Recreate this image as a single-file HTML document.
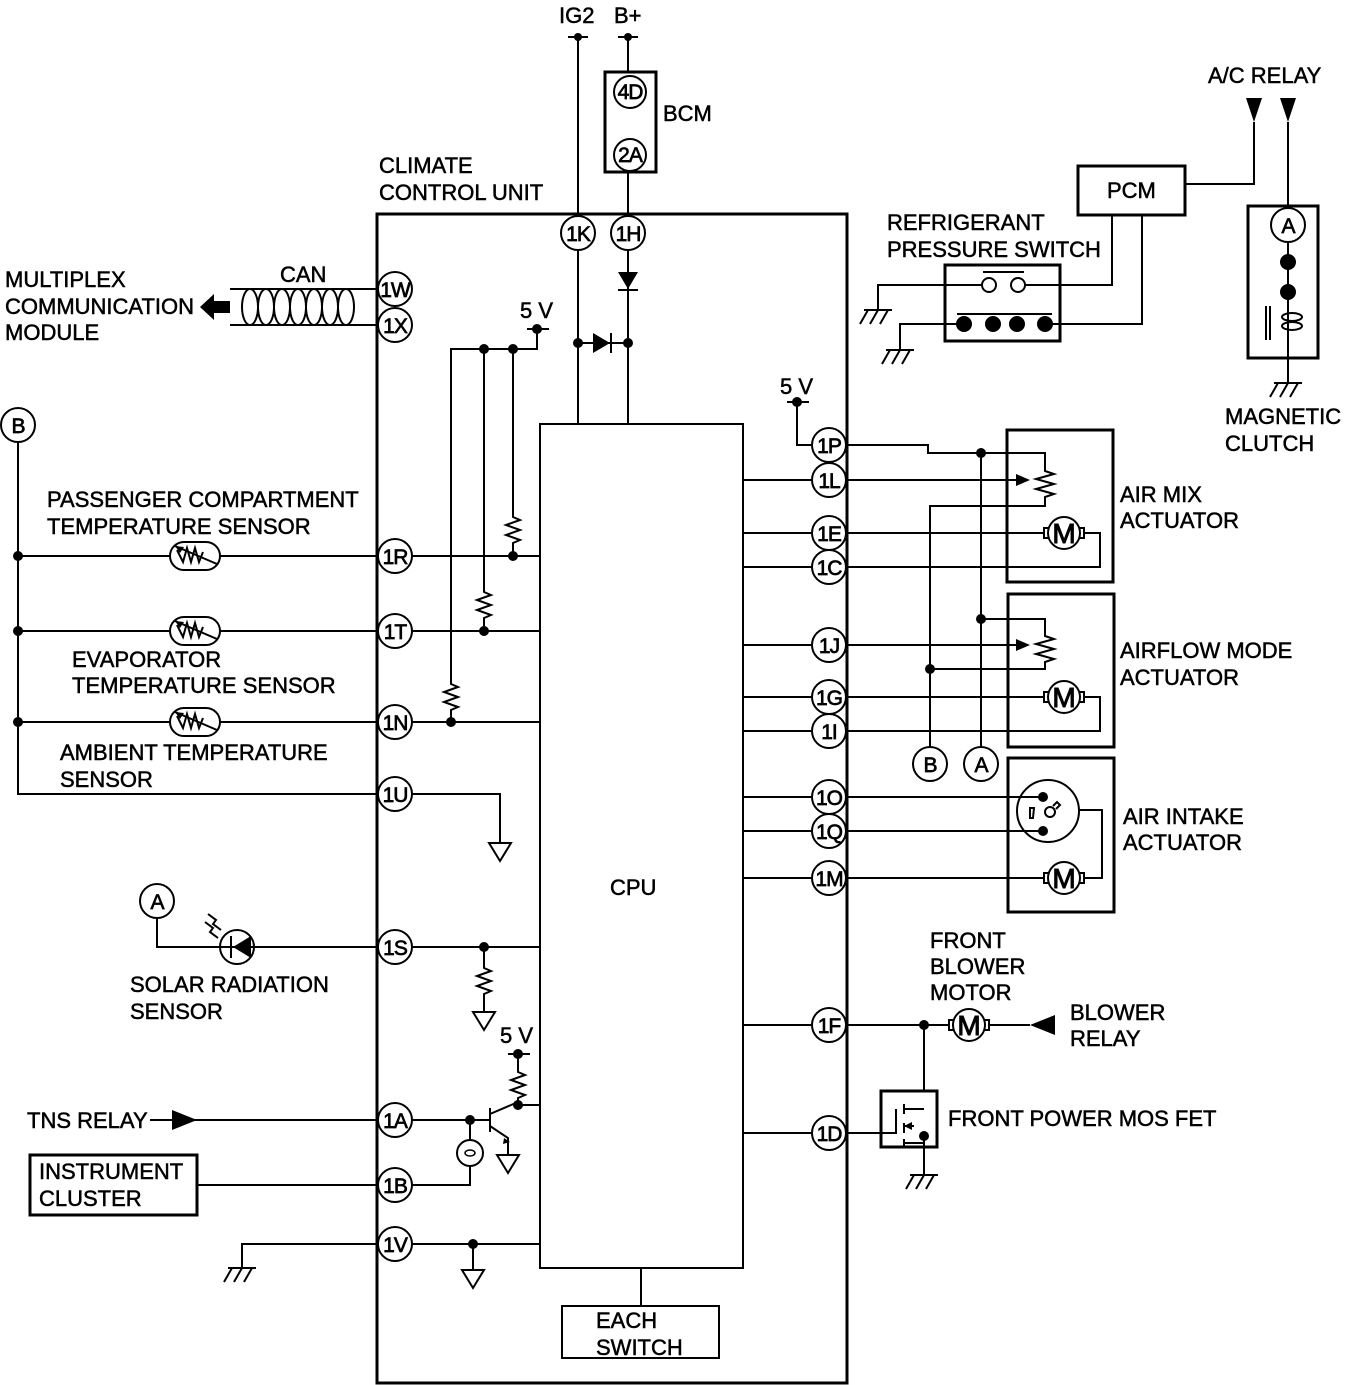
<!DOCTYPE html>
<html><head><meta charset="utf-8"><style>
html,body{margin:0;padding:0;background:#fff;}
svg{display:block;}
text{font-family:"Liberation Sans",Arial,sans-serif;font-size:22px;fill:#000;stroke:#000;stroke-width:0.5px;}
.p{font-size:21px;text-anchor:middle;letter-spacing:-1px;stroke-width:0.7px;}
</style></head><body>
<svg width="1362" height="1385" viewBox="0 0 1362 1385" xmlns="http://www.w3.org/2000/svg">
<defs>
<g id="rv"><path d="M0,0 v8 l7,3 l-14,5 l14,5 l-14,5 l14,5 l-7,3 v8" fill="none" stroke="#000" stroke-width="2"/></g>
<g id="gnd"><path d="M-14,0 h28 M-10,0 l-8,14 M0,0 l-8,14 M10,0 l-8,14" fill="none" stroke="#000" stroke-width="2"/></g>
<g id="tri"><path d="M-11,0 h22 l-11,18 z" fill="#fff" stroke="#000" stroke-width="2"/></g>
<g id="th"><rect x="-25" y="-14" width="50" height="28" rx="14" fill="#fff" stroke="#000" stroke-width="2"/><path d="M-18,-6 l6,12 l4,-14 l4,14 l4,-14 l4,14 l4,-10" fill="none" stroke="#000" stroke-width="2"/><path d="M-20,-10 L22,8" stroke="#000" stroke-width="2"/><path d="M-20,-10 l9,1 l-4,6z" fill="#000"/></g>
<g id="mot"><rect x="-20" y="-5" width="6" height="10" fill="#fff" stroke="#000" stroke-width="2"/><rect x="14" y="-5" width="6" height="10" fill="#fff" stroke="#000" stroke-width="2"/><circle r="16" fill="#fff" stroke="#000" stroke-width="2"/><text y="10" class="p" style="font-size:28px;stroke-width:1px;letter-spacing:0">M</text></g>
<g id="pot"><path d="M0,0 v8 l9,3 l-18,5 l18,5 l-18,5 l18,5 l-9,3 v8" fill="none" stroke="#000" stroke-width="2"/></g>
</defs>
<g fill="none" stroke="#000" stroke-width="2">
<rect x="377" y="214" width="470" height="1169" stroke-width="3"/>
<rect x="540" y="424" width="203" height="844"/>
<rect x="562" y="1306" width="157" height="52"/>
<path d="M641,1268 V1306"/>
<path d="M568,37 h20 M618,37 h20 M578,37 V216 M628,37 V72 M628,172 V216"/>
<rect x="605" y="72" width="51" height="100" stroke-width="3"/>
<path d="M628,250 V424 M578,250 V424 M578,343 H628"/>
<path d="M230,289 H378 M230,325 H378"/>
<path d="M527,329 h22 M537,329 V349 H451 V676 M451,712 V722 M484,349 V584 M484,620 V631 M513,349 V509 M513,545 V556"/>
<path d="M395,556 H540 M395,631 H540 M395,722 H540"/>
<path d="M18,442 V794 H378 M18,556 H378 M18,631 H378 M18,722 H378"/>
<path d="M412,794 H500 V843"/>
<path d="M157,918 V947 H378 M412,947 H540 M484,947 V960 M484,996 V1012"/>
<path d="M205,922 l8,6 l-3,4 l8,6 M208,914 l8,6 l-3,4 l8,6"/>
<path d="M508,1054 h22 M518,1054 V1064 M518,1100 V1105 H540"/>
<path d="M150,1120 H378 M412,1120 H490 M490,1108 V1132 M490,1114 L518,1102 M490,1126 L508,1138 V1155"/>
<path d="M470,1120 V1140 M470,1166 V1185 H412 M197,1185 H378"/>
<rect x="30" y="1155" width="167" height="60" stroke-width="3"/>
<path d="M378,1244 H242 V1268 M412,1244 H540 M473,1244 V1270"/>
<path d="M787,402 h22 M797,402 V445 H812 M846,445 H928 V453 H1045 V463 M1045,499 V506 H930 V747"/>
<path d="M981,453 V747 M981,619 H1045 V628 M1045,664 V669 H930"/>
<path d="M743,480 H812 M846,480 H1028 M743,533 H812 M846,533 H1045 M1083,533 H1100 V567 H846 M743,567 H812"/>
<path d="M743,645 H812 M846,645 H1028 M743,697 H812 M846,697 H1045 M1083,697 H1100 V731 H846 M743,731 H812"/>
<path d="M743,797 H812 M846,797 H1045 M743,831 H812 M846,831 H1045 M743,878 H812 M846,878 H1045 M1083,878 H1102 V810 H1079"/>
<circle cx="1048" cy="811" r="31"/>
<rect x="1007" y="430" width="106" height="152" stroke-width="3"/>
<rect x="1008" y="594" width="106" height="153" stroke-width="3"/>
<rect x="1008" y="758" width="106" height="154" stroke-width="3"/>
<path d="M743,1025 H812 M846,1025 H950 M988,1025 H1030 M924,1025 V1091 M743,1133 H812 M846,1133 H881 M924,1133 V1175"/>
<rect x="881" y="1091" width="56" height="56" stroke-width="3"/>
<path d="M896,1109 V1133 H881 M904,1104 V1114 M904,1123 V1133 M904,1139 V1147 M904,1109 H924 M904,1143 H924 M904,1126 H914"/>
<rect x="1078" y="166" width="107" height="49" stroke-width="3"/>
<path d="M1185,184 H1254 V122 M1288,122 V208 M1112,215 V285 H1025 M1142,215 V324 H1052 M983,285 H878 V310 M958,324 H900 V350"/>
<rect x="945" y="265" width="115" height="76" stroke-width="3"/>
<path d="M983,272 H1024 M957,314 H1052"/>
<rect x="1248" y="206" width="70" height="152" stroke-width="3"/>
<path d="M1288,242 V330 M1288,330 V383 M1266,306 V340 M1270,306 V340"/>
<ellipse cx="1292" cy="317" rx="10" ry="4"/><ellipse cx="1292" cy="326" rx="10" ry="4"/>
<ellipse cx="250" cy="307" rx="8" ry="18"/><ellipse cx="266" cy="307" rx="8" ry="18"/><ellipse cx="282" cy="307" rx="8" ry="18"/><ellipse cx="298" cy="307" rx="8" ry="18"/><ellipse cx="314" cy="307" rx="8" ry="18"/><ellipse cx="330" cy="307" rx="8" ry="18"/><ellipse cx="346" cy="307" rx="8" ry="18"/>
</g>
<path d="M200,307 l14,-13 v7 h16 v12 h-16 v7z" fill="#000"/>
<use href="#rv" x="451" y="676"/><use href="#rv" x="484" y="584"/><use href="#rv" x="513" y="509"/>
<use href="#rv" x="484" y="960"/><use href="#rv" x="518" y="1064"/>
<use href="#pot" x="1045" y="463"/><use href="#pot" x="1045" y="628"/>
<path d="M1016,474 l14,6 l-14,6z M1016,639 l14,6 l-14,6z" fill="#000"/>
<use href="#th" x="195" y="556"/><use href="#th" x="195" y="631"/><use href="#th" x="195" y="722"/>
<use href="#tri" x="500" y="843"/><use href="#tri" x="484" y="1012"/><use href="#tri" x="508" y="1155"/><use href="#tri" x="473" y="1270"/>
<use href="#gnd" x="242" y="1268"/><use href="#gnd" x="924" y="1175"/><use href="#gnd" x="878" y="310"/><use href="#gnd" x="900" y="350"/><use href="#gnd" x="1288" y="383"/>
<use href="#mot" x="1064" y="533"/><use href="#mot" x="1064" y="697"/><use href="#mot" x="1064" y="878"/><use href="#mot" x="969" y="1025"/>
<path d="M618,272 h20 l-10,17z M593,333 v20 l17,-10z" fill="#000"/>
<path d="M618,290 h20 M611,333 v20" stroke="#000" stroke-width="2"/>
<circle cx="237" cy="947" r="17" fill="#fff" stroke="#000" stroke-width="2"/>
<path d="M251,936 v22 l-18,-11z" fill="#000"/><path d="M231,936 v22 M220,947 h34" stroke="#000" stroke-width="2"/>
<path d="M172,1110 v20 l25,-10z M1030,1025 l25,-10 v20z M1246,98 h16 l-8,24z M1280,98 h16 l-8,24z" fill="#000"/>
<circle cx="470" cy="1153" r="13" fill="#fff" stroke="#000" stroke-width="2"/><ellipse cx="470" cy="1153" rx="5" ry="3" fill="none" stroke="#000" stroke-width="1.5"/>
<path d="M504,1138 l6,4 l-7,2z" fill="#000"/>
<path d="M904,1126 l8,-4 v8z" fill="#000"/>
<g fill="#000">
<circle cx="578" cy="37" r="4"/><circle cx="628" cy="37" r="4"/><circle cx="537" cy="329" r="5"/><circle cx="484" cy="349" r="5"/><circle cx="513" cy="349" r="5"/>
<circle cx="578" cy="343" r="5"/><circle cx="628" cy="343" r="5"/>
<circle cx="513" cy="556" r="5"/><circle cx="484" cy="631" r="5"/><circle cx="451" cy="722" r="5"/>
<circle cx="18" cy="556" r="5"/><circle cx="18" cy="631" r="5"/><circle cx="18" cy="722" r="5"/>
<circle cx="484" cy="947" r="5"/><circle cx="518" cy="1054" r="5"/><circle cx="518" cy="1105" r="5"/><circle cx="470" cy="1120" r="5"/><circle cx="473" cy="1244" r="5"/>
<circle cx="797" cy="402" r="5"/><circle cx="981" cy="453" r="5"/><circle cx="981" cy="619" r="5"/><circle cx="930" cy="669" r="5"/>
<circle cx="924" cy="1025" r="5"/><circle cx="924" cy="1136" r="5"/>
<circle cx="1043" cy="797" r="5"/><circle cx="1043" cy="831" r="5"/>
<circle cx="964" cy="324" r="8"/><circle cx="993" cy="324" r="8"/><circle cx="1017" cy="324" r="8"/><circle cx="1045" cy="324" r="8"/>
<circle cx="1288" cy="262" r="8"/><circle cx="1288" cy="292" r="8"/>
</g>
<g fill="#fff" stroke="#000" stroke-width="2"><circle cx="989" cy="285" r="7"/><circle cx="1018" cy="285" r="7"/>
<circle cx="1050" cy="812" r="5"/><path d="M1053,806 l4,-4 l3,3 l-4,4"/><path d="M1030,808 h4 l-1,10 h-3z"/></g>
<g fill="#fff" stroke="#000" stroke-width="2">
<circle cx="630" cy="92" r="16"/><circle cx="630" cy="155" r="16"/><circle cx="578" cy="233" r="17"/><circle cx="628" cy="233" r="17"/>
<circle cx="395" cy="289" r="17"/><circle cx="395" cy="325" r="17"/><circle cx="395" cy="556" r="17"/><circle cx="395" cy="631" r="17"/><circle cx="395" cy="722" r="17"/><circle cx="395" cy="794" r="17"/><circle cx="395" cy="947" r="17"/><circle cx="395" cy="1120" r="17"/><circle cx="395" cy="1185" r="17"/><circle cx="395" cy="1244" r="17"/>
<circle cx="829" cy="445" r="17"/><circle cx="829" cy="480" r="17"/><circle cx="829" cy="533" r="17"/><circle cx="829" cy="567" r="17"/><circle cx="829" cy="645" r="17"/><circle cx="829" cy="697" r="17"/><circle cx="829" cy="731" r="17"/><circle cx="829" cy="797" r="17"/><circle cx="829" cy="831" r="17"/><circle cx="829" cy="878" r="17"/><circle cx="829" cy="1025" r="17"/><circle cx="829" cy="1133" r="17"/>
<circle cx="18" cy="425" r="17"/><circle cx="157" cy="901" r="17"/><circle cx="930" cy="764" r="17"/><circle cx="981" cy="764" r="17"/><circle cx="1288" cy="225" r="17"/>
</g>
<g>
<text class="p" x="630" y="99">4D</text><text class="p" x="630" y="162">2A</text><text class="p" x="578" y="241">1K</text><text class="p" x="628" y="241">1H</text>
<text class="p" x="395" y="297">1W</text><text class="p" x="395" y="333">1X</text><text class="p" x="395" y="564">1R</text><text class="p" x="395" y="639">1T</text><text class="p" x="395" y="730">1N</text><text class="p" x="395" y="802">1U</text><text class="p" x="395" y="955">1S</text><text class="p" x="395" y="1128">1A</text><text class="p" x="395" y="1193">1B</text><text class="p" x="395" y="1252">1V</text>
<text class="p" x="829" y="453">1P</text><text class="p" x="829" y="488">1L</text><text class="p" x="829" y="541">1E</text><text class="p" x="829" y="575">1C</text><text class="p" x="829" y="653">1J</text><text class="p" x="829" y="705">1G</text><text class="p" x="829" y="739">1I</text><text class="p" x="829" y="805">1O</text><text class="p" x="829" y="839">1Q</text><text class="p" x="829" y="886">1M</text><text class="p" x="829" y="1033">1F</text><text class="p" x="829" y="1141">1D</text>
<text class="p" x="18" y="433">B</text><text class="p" x="157" y="909">A</text><text class="p" x="930" y="772">B</text><text class="p" x="981" y="772">A</text><text class="p" x="1288" y="233">A</text>
</g>
<text x="559" y="23">IG2</text><text x="614" y="23">B+</text><text x="663" y="121">BCM</text>
<text x="379" y="173">CLIMATE</text><text x="379" y="200">CONTROL UNIT</text>
<text x="280" y="282">CAN</text>
<text x="5" y="287">MULTIPLEX</text><text x="5" y="314">COMMUNICATION</text><text x="5" y="340">MODULE</text>
<text x="520" y="318">5 V</text><text x="780" y="394">5 V</text><text x="500" y="1043">5 V</text>
<text x="47" y="507">PASSENGER COMPARTMENT</text><text x="47" y="534">TEMPERATURE SENSOR</text>
<text x="72" y="667">EVAPORATOR</text><text x="72" y="693">TEMPERATURE SENSOR</text>
<text x="60" y="760">AMBIENT TEMPERATURE</text><text x="60" y="787">SENSOR</text>
<text x="130" y="992">SOLAR RADIATION</text><text x="130" y="1019">SENSOR</text>
<text x="27" y="1128">TNS RELAY</text>
<text x="39" y="1179">INSTRUMENT</text><text x="39" y="1206">CLUSTER</text>
<text x="610" y="895">CPU</text>
<text x="596" y="1328">EACH</text><text x="596" y="1355">SWITCH</text>
<text x="1107" y="198">PCM</text>
<text x="1208" y="83">A/C RELAY</text>
<text x="887" y="230">REFRIGERANT</text><text x="887" y="257">PRESSURE SWITCH</text>
<text x="1225" y="424">MAGNETIC</text><text x="1225" y="451">CLUTCH</text>
<text x="1120" y="502">AIR MIX</text><text x="1120" y="528">ACTUATOR</text>
<text x="1120" y="658">AIRFLOW MODE</text><text x="1120" y="685">ACTUATOR</text>
<text x="1123" y="824">AIR INTAKE</text><text x="1123" y="850">ACTUATOR</text>
<text x="930" y="948">FRONT</text><text x="930" y="974">BLOWER</text><text x="930" y="1000">MOTOR</text>
<text x="1070" y="1020">BLOWER</text><text x="1070" y="1046">RELAY</text>
<text x="948" y="1126">FRONT POWER MOS FET</text>
</svg>
</body></html>
